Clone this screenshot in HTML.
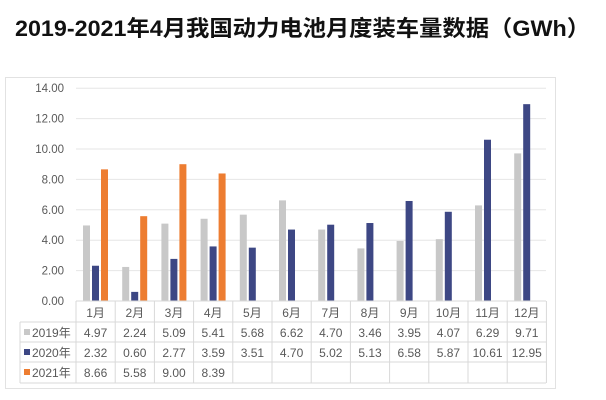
<!DOCTYPE html>
<html><head><meta charset="utf-8"><style>
html,body{margin:0;padding:0;background:#fff;}
svg{display:block;font-family:"Liberation Sans","Noto Sans CJK SC",sans-serif;}
</style></head><body>
<svg id="s" width="606" height="400" viewBox="0 0 606 400">
<text x="15" y="36" font-size="22" font-weight="bold" fill="#111" textLength="575" lengthAdjust="spacingAndGlyphs" font-family="'Liberation Sans','Noto Sans CJK SC',sans-serif">2019-2021年4月我国动力电池月度装车量数据（GWh）</text>
<rect x="5.5" y="77.5" width="550" height="311" fill="none" stroke="#e2e2e2"/>
<g id="g"></g>
</svg>
<script>
var g=document.getElementById('g'),h='';
var d=[[4.97,2.24,5.09,5.41,5.68,6.62,4.70,3.46,3.95,4.07,6.29,9.71],
[2.32,0.60,2.77,3.59,3.51,4.70,5.02,5.13,6.58,5.87,10.61,12.95],
[8.66,5.58,9.00,8.39]];
var col=['#c8c8c8','#3d4784','#ed7d31'];
var x0=76,cw=39.2,y0=301,k=15.2;
for(var i=0;i<=7;i++){var y=y0-i*2*k;
 if(i>0)h+='<line x1="'+x0+'" x2="546" y1="'+y+'" y2="'+y+'" stroke="#e6e6e6"/>';
 h+='<text x="64" y="'+(y+4)+'" font-size="11.5" fill="#595959" text-anchor="end">'+(i*2).toFixed(2)+'</text>';}
for(var s=0;s<3;s++)for(var c=0;c<d[s].length;c++){var v=d[s][c];
 h+='<rect x="'+(x0+c*cw+7+s*9)+'" y="'+(y0-v*k)+'" width="7" height="'+(v*k)+'" fill="'+col[s]+'"/>';}
// table
var rows=[301,322,342,362,383];
h+='<line x1="'+x0+'" x2="546" y1="301" y2="301" stroke="#d9d9d9"/>';
for(var r=1;r<5;r++)h+='<line x1="20" x2="546" y1="'+rows[r]+'" y2="'+rows[r]+'" stroke="#d9d9d9"/>';
h+='<line x1="20" x2="20" y1="322" y2="383" stroke="#d9d9d9"/>';
for(var c=0;c<=12;c++){var x=x0+c*cw;h+='<line x1="'+x+'" x2="'+x+'" y1="301" y2="383" stroke="#d9d9d9"/>';}
for(var c=0;c<12;c++){var cx=x0+c*cw+cw/2;
 h+='<text x="'+cx+'" y="317" font-size="12" fill="#595959" text-anchor="middle">'+(c+1)+'月</text>';
 for(var s=0;s<3;s++)if(c<d[s].length)h+='<text x="'+cx+'" y="'+(rows[s+1]+15)+'" font-size="12" fill="#595959" text-anchor="middle">'+d[s][c].toFixed(2)+'</text>';}
var lab=['2019年','2020年','2021年'];
for(var s=0;s<3;s++){h+='<rect x="24" y="'+(rows[s+1]+7)+'" width="6" height="6" fill="'+col[s]+'"/>';
 h+='<text x="32" y="'+(rows[s+1]+15)+'" font-size="12" fill="#595959">'+lab[s]+'</text>';}
g.innerHTML=h;
</script>
</body></html>
